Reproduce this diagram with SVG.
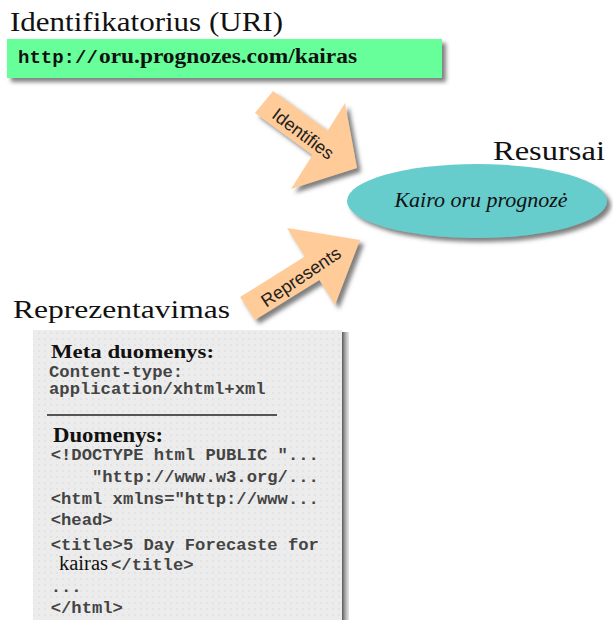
<svg xmlns="http://www.w3.org/2000/svg" width="613" height="620" viewBox="0 0 613 620">
  <style>
    .code { font-family: "Liberation Mono", "Courier New", monospace; font-weight: bold; font-size: 17.2px; fill: #444; }
    .arrow { fill: #FFCC99; filter: url(#shadow); }
    .label { font-family: "Liberation Sans", Arial, sans-serif; font-size: 18px; fill: #222; }
  </style>
  <defs>
    <filter id="shadow" x="-20%" y="-20%" width="150%" height="150%">
      <feDropShadow dx="4" dy="4" stdDeviation="2" flood-color="#555" flood-opacity="0.75"/>
    </filter>
    <pattern id="dots" width="6" height="6" patternUnits="userSpaceOnUse">
      <rect width="6" height="6" fill="#ECECEC"/>
      <circle cx="3" cy="3" r="1" fill="#E0E0E0"/>
    </pattern>
    <linearGradient id="edge" x1="0" x2="1" y1="0" y2="0">
      <stop offset="0" stop-color="#555"/>
      <stop offset="1" stop-color="#bbb" stop-opacity="0.4"/>
    </linearGradient>
  </defs>

  <rect width="613" height="620" fill="#fff"/>

  <!-- identifier: URI box -->
  <g id="node-uri">
    <text font-family="'Liberation Serif', 'DejaVu Serif', serif" fill="#111" x="10" y="31" font-size="28" textLength="273" lengthAdjust="spacingAndGlyphs">Identifikatorius (URI)</text>
    <rect x="7" y="39" width="435" height="39" fill="#66FF99" filter="url(#shadow)"/>
    <text font-family="'Liberation Mono', 'DejaVu Sans Mono', monospace" font-weight="bold" x="18" y="63" font-size="19" fill="#111">http://</text>
    <text font-family="'Liberation Serif', 'DejaVu Serif', serif" font-weight="bold" fill="#111" x="99" y="63" font-size="20" textLength="258" lengthAdjust="spacingAndGlyphs">oru.prognozes.com/kairas</text>
  </g>

  <!-- resource -->
  <g id="node-resource">
    <text font-family="'Liberation Serif', 'DejaVu Serif', serif" fill="#111" x="493" y="160" font-size="28" textLength="112" lengthAdjust="spacingAndGlyphs">Resursai</text>
    <ellipse cx="477" cy="201" rx="130" ry="37" fill="#66CCCC" filter="url(#shadow)"/>
    <text x="481" y="207" text-anchor="middle" font-family="'Liberation Serif', 'DejaVu Serif', serif" font-style="italic" font-size="22" fill="#111">Kairo oru prognozė</text>
  </g>

  <!-- representation: metadata and data -->
  <g id="node-representation">
    <text font-family="'Liberation Serif', 'DejaVu Serif', serif" fill="#111" x="13" y="318" font-size="25" textLength="217" lengthAdjust="spacingAndGlyphs">Reprezentavimas</text>
    <rect x="342" y="332" width="7" height="290" fill="url(#edge)"/>
    <rect x="33" y="330" width="309" height="292" fill="url(#dots)"/>
    <text font-family="'Liberation Serif', 'DejaVu Serif', serif" font-weight="bold" fill="#111" x="51" y="358" font-size="19" textLength="163" lengthAdjust="spacingAndGlyphs">Meta duomenys:</text>
    <text class="code" x="49" y="377">Content-type:</text>
    <text class="code" x="49" y="394">application/xhtml+xml</text>
    <line x1="47" y1="415" x2="277" y2="415" stroke="#222" stroke-width="1.5"/>
    <text font-family="'Liberation Serif', 'DejaVu Serif', serif" font-weight="bold" fill="#111" x="53" y="442" font-size="20" textLength="110" lengthAdjust="spacingAndGlyphs">Duomenys:</text>
    <text class="code" x="50.7" y="459.5" xml:space="preserve">&lt;!DOCTYPE html PUBLIC "...</text>
    <text class="code" x="50.7" y="481.5" xml:space="preserve">    "http://www.w3.org/...</text>
    <text class="code" x="50.7" y="503.5">&lt;html xmlns="http://www...</text>
    <text class="code" x="50.7" y="525">&lt;head&gt;</text>
    <text class="code" x="50.7" y="549.5">&lt;title&gt;5 Day Forecaste for</text>
    <text font-family="'Liberation Serif', 'DejaVu Serif', serif" fill="#111" x="59" y="570" font-size="20" textLength="49" lengthAdjust="spacingAndGlyphs">kairas</text>
    <text class="code" x="111" y="570">&lt;/title&gt;</text>
    <text class="code" x="50.7" y="592">...</text>
    <text class="code" x="50.7" y="612.5">&lt;/html&gt;</text>
  </g>

  <!-- connectors: block arrows into the resource -->
  <g id="connectors">
    <g id="edge-identifies">
      <polygon class="arrow" points="273,91 327.6,130.7 345,103 357,168 291,189 312.4,154.9 255,113"/>
      <text class="label" transform="translate(303,134) rotate(37)" text-anchor="middle" dominant-baseline="central">Identifies</text>
    </g>
    <g id="edge-represents">
      <polygon class="arrow" points="240,297 304.8,256.6 287,228 360,240 335,305 319.4,279.9 255,320"/>
      <text class="label" transform="translate(301,277) rotate(-34)" text-anchor="middle" dominant-baseline="central">Represents</text>
    </g>
  </g>
</svg>
